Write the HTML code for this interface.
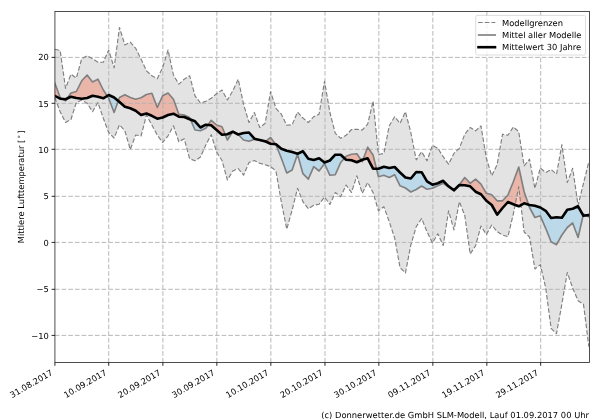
<!DOCTYPE html>
<html lang="de"><head><meta charset="utf-8"><title>Mittlere Lufttemperatur</title>
<style>html,body{margin:0;padding:0;background:#fff}body{width:600px;height:420px;overflow:hidden}svg{display:block}text{font-family:"DejaVu Sans","Liberation Sans",sans-serif;font-size:8.33px;fill:#000;text-rendering:geometricPrecision}</style></head><body>
<svg width="600" height="420" viewBox="0 0 600 420" role="img" aria-label="Mittlere Lufttemperatur">
<rect width="600" height="420" fill="#fff"/>
<polygon fill="rgba(128,128,128,0.22)" points="54.76,49.2 60.16,50.5 65.55,88.3 70.94,74.2 76.34,78 81.73,58.7 87.13,55.8 92.53,58.7 97.92,62.2 103.31,62.2 108.71,50 114.1,67.8 119.5,27.5 124.89,45 130.29,42.2 135.69,48.3 141.08,59.2 146.47,70.8 151.87,75.8 157.26,78.7 162.66,67.5 168.05,50 173.45,75 178.84,84.2 184.24,79.2 189.63,75.8 195.03,95.8 200.42,103 205.82,101.3 211.21,98.3 216.61,93.7 222,90 227.4,100 232.79,90.8 238.19,79.2 243.58,104.2 248.98,122.5 254.37,112.5 259.77,127.5 265.16,123.3 270.56,91.7 275.95,108.3 281.35,114.2 286.75,125.3 292.14,124.7 297.53,112 302.93,118 308.32,122.5 313.72,116.7 319.11,114.2 324.51,81.3 329.9,112.5 335.3,133.3 340.69,138.3 346.09,135.3 351.48,129.5 356.88,129.2 362.27,130 367.67,124.2 373.06,101.2 378.46,154.5 383.85,153.5 389.25,125.8 394.64,116.7 400.04,123.3 405.43,111.7 410.83,132.5 416.22,160 421.62,151.7 427.01,160.8 432.41,145.3 437.8,148.3 443.2,156.7 448.59,164.2 453.99,153.3 459.38,148.3 464.78,134.2 470.17,127.5 475.57,130.8 480.96,125.8 486.36,158.3 491.75,175.8 497.15,164.5 502.54,134.2 507.94,135.3 513.34,127 518.73,131.7 524.12,165.8 529.52,159.2 534.91,188.3 540.31,168 545.7,172.5 551.1,169.5 556.5,174.2 561.89,144.7 567.28,182.5 572.68,168.3 578.07,205.5 583.47,183.3 588.86,161.7 588.86,346.7 583.47,304.2 578.07,300.8 572.68,288 567.28,272.5 561.89,304 556.5,333.7 551.1,328.3 545.7,287.8 540.31,264.7 534.91,269 529.52,237 524.12,232 518.73,186.7 513.34,214 507.94,236.7 502.54,235 497.15,231.7 491.75,225 486.36,234.5 480.96,226 475.57,245.8 470.17,254 464.78,215.5 459.38,201.7 453.99,230 448.59,210.8 443.2,245.5 437.8,233.7 432.41,243 427.01,231.7 421.62,218.5 416.22,226.7 410.83,245 405.43,273 400.04,267.5 394.64,238 389.25,221.7 383.85,206.7 378.46,210.8 373.06,192.5 367.67,182.5 362.27,193.3 356.88,175.8 351.48,192.5 346.09,185 340.69,196.7 335.3,192.5 329.9,204.5 324.51,197 319.11,204.2 313.72,205.3 308.32,208.7 302.93,201.7 297.53,188.3 292.14,210 286.75,229.2 281.35,202 275.95,171 270.56,166.5 265.16,164.8 259.77,163.3 254.37,160.5 248.98,162.5 243.58,175.2 238.19,168.5 232.79,171 227.4,180 222,160.5 216.61,152 211.21,134.7 205.82,145 200.42,157 195.03,160.8 189.63,158.7 184.24,138.7 178.84,141.7 173.45,125.8 168.05,135.8 162.66,142.5 157.26,135 151.87,125 146.47,115 141.08,136 135.69,135 130.29,149.5 124.89,130.8 119.5,124.7 114.1,138 108.71,132.5 103.31,118.3 97.92,102.5 92.53,111.7 87.13,103.3 81.73,100 76.34,102.5 70.94,119.5 65.55,122.5 60.16,111.7 54.76,97.5"/>
<polygon fill="rgba(255,80,40,0.3)" points="54.76,83 60.16,97.5 62.47,98.91 62.47,98.91 60.16,98.7 54.76,95.8"/>
<polygon fill="rgba(255,80,40,0.3)" points="67.18,98.45 70.94,93 76.34,91.5 81.73,80.8 87.13,75 92.53,82 97.92,79.2 103.31,90 107.18,95.94 107.18,95.94 103.31,98.3 97.92,96.7 92.53,95.8 87.13,98 81.73,98.7 76.34,98 70.94,96.7 67.18,98.45"/>
<polygon fill="rgba(255,80,40,0.3)" points="118.25,100.96 119.5,97.5 124.89,94.7 130.29,97.5 135.69,99.2 141.08,97.8 146.47,94.5 151.87,93.3 157.26,107.5 162.66,95.8 168.05,93 173.45,99.2 178.84,114.2 184.24,115 189.63,117.5 190.52,119.54 190.52,119.54 189.63,119.2 184.24,117 178.84,116.7 173.45,113.7 168.05,115 162.66,117.5 157.26,118.7 151.87,115.8 146.47,113.5 141.08,115 135.69,110.8 130.29,108.3 124.89,106.7 119.5,102 118.25,100.96"/>
<polygon fill="rgba(255,80,40,0.3)" points="208.08,124.95 211.21,120.3 216.61,125 222,126.7 225.13,134.41 225.13,134.41 222,134.7 216.61,130 211.21,125.3 208.08,124.95"/>
<polygon fill="rgba(255,80,40,0.3)" points="232.62,131.78 232.79,131.5 238.19,134.5 238.19,134.5 232.79,131.7 232.62,131.78"/>
<polygon fill="rgba(255,80,40,0.3)" points="265.71,141.54 270.56,137.5 275.55,144.16 275.55,144.16 270.56,143.7 265.71,141.54"/>
<polygon fill="rgba(255,80,40,0.3)" points="344.45,158.18 346.09,156.3 351.48,154.2 356.88,153.7 361.25,160.18 361.25,160.18 356.88,162.2 351.48,160.3 346.09,159.7 344.45,158.18"/>
<polygon fill="rgba(255,80,40,0.3)" points="363.1,159.49 367.67,147.2 373.06,155 376.47,168.7 376.47,168.7 373.06,168.7 367.67,158.3 363.1,159.49"/>
<polygon fill="rgba(255,80,40,0.3)" points="457.36,186.99 459.38,184.7 464.78,177.5 470.17,183.3 475.57,179.2 480.96,184.2 486.36,193.3 491.75,194.7 497.15,200.8 502.54,200.8 507.94,195 513.34,181.7 518.73,167 524.12,191.7 528.56,204.7 528.56,204.7 524.12,203.3 518.73,206.3 513.34,204.2 507.94,202 502.54,208 497.15,214.7 491.75,205 486.36,200.8 480.96,194.2 475.57,191.7 470.17,186.3 464.78,185.3 459.38,185 457.36,186.99"/>
<polygon fill="rgba(255,80,40,0.3)" points="583.18,215.28 583.47,214 586.03,215.42 586.03,215.42 583.47,215.8 583.18,215.28"/>
<polygon fill="rgba(100,197,247,0.3)" points="62.47,98.91 65.55,100.8 67.18,98.45 67.18,98.45 65.55,99.2 62.47,98.91"/>
<polygon fill="rgba(100,197,247,0.3)" points="107.18,95.94 108.71,98.3 114.1,112.5 118.25,100.96 118.25,100.96 114.1,97.5 108.71,95 107.18,95.94"/>
<polygon fill="rgba(100,197,247,0.3)" points="190.52,119.54 195.03,130 200.42,130.8 205.82,128.3 208.08,124.95 208.08,124.95 205.82,124.7 200.42,127.5 195.03,121.3 190.52,119.54"/>
<polygon fill="rgba(100,197,247,0.3)" points="225.13,134.41 227.4,140 232.62,131.78 232.62,131.78 227.4,134.2 225.13,134.41"/>
<polygon fill="rgba(100,197,247,0.3)" points="238.19,134.5 243.58,140 248.98,141.3 254.37,139.2 259.77,140.3 265.16,142 265.71,141.54 265.71,141.54 265.16,141.3 259.77,140 254.37,138.7 248.98,132.5 243.58,133 238.19,134.5"/>
<polygon fill="rgba(100,197,247,0.3)" points="275.55,144.16 275.95,144.7 281.35,158.3 286.75,173 292.14,170 297.53,154.2 302.93,173.7 308.32,179.2 313.72,166.7 319.11,171 324.51,163.5 329.9,175.3 335.3,174.7 340.69,162.5 344.45,158.18 344.45,158.18 340.69,154.7 335.3,154.7 329.9,160.5 324.51,162.5 319.11,158.3 313.72,160 308.32,158.7 302.93,151.3 297.53,153.7 292.14,152 286.75,150.8 281.35,148.7 275.95,144.2 275.55,144.16"/>
<polygon fill="rgba(100,197,247,0.3)" points="361.25,160.18 362.27,161.7 363.1,159.49 363.1,159.49 362.27,159.7 361.25,160.18"/>
<polygon fill="rgba(100,197,247,0.3)" points="376.47,168.7 378.46,176.7 383.85,175.3 389.25,177.5 394.64,174.7 400.04,185.8 405.43,188 410.83,192 416.22,189.5 421.62,186 427.01,189.2 432.41,188.3 437.8,185.8 443.2,183.3 448.59,187 453.99,190.8 457.36,186.99 457.36,186.99 453.99,190.3 448.59,186.3 443.2,180.8 437.8,183.3 432.41,184.7 427.01,181.3 421.62,172.2 416.22,172 410.83,178.5 405.43,177.5 400.04,172.5 394.64,167 389.25,168 383.85,166.7 378.46,168.7 376.47,168.7"/>
<polygon fill="rgba(100,197,247,0.3)" points="528.56,204.7 529.52,207.5 534.91,217.5 540.31,215.8 545.7,228.3 551.1,241.7 556.5,244.7 561.89,235 567.28,227.5 572.68,223 578.07,237.5 583.18,215.28 583.18,215.28 578.07,206.3 572.68,208.8 567.28,209.7 561.89,217.8 556.5,217.2 551.1,218 545.7,210.8 540.31,207.5 534.91,205.8 529.52,205 528.56,204.7"/>
<polygon fill="rgba(100,197,247,0.3)" points="586.03,215.42 588.86,217 588.86,215 586.03,215.42"/>
<g stroke="#b0b0b0" stroke-width="0.9" stroke-dasharray="4.62 2.05" stroke-opacity="1" fill="none">
<line x1="108.72" y1="362.5" x2="108.72" y2="11.5"/>
<line x1="162.88" y1="362.5" x2="162.88" y2="11.5"/>
<line x1="216.85" y1="362.5" x2="216.85" y2="11.5"/>
<line x1="270.85" y1="362.5" x2="270.85" y2="11.5"/>
<line x1="324.98" y1="362.5" x2="324.98" y2="11.5"/>
<line x1="378.85" y1="362.5" x2="378.85" y2="11.5"/>
<line x1="432.85" y1="362.5" x2="432.85" y2="11.5"/>
<line x1="486.85" y1="362.5" x2="486.85" y2="11.5"/>
<line x1="540.68" y1="362.5" x2="540.68" y2="11.5"/>
<line x1="54.92" y1="335.4" x2="589.5" y2="335.4"/>
<line x1="54.92" y1="289.3" x2="589.5" y2="289.3"/>
<line x1="54.92" y1="242.4" x2="589.5" y2="242.4"/>
<line x1="54.92" y1="196.3" x2="589.5" y2="196.3"/>
<line x1="54.92" y1="149.3" x2="589.5" y2="149.3"/>
<line x1="54.92" y1="103.3" x2="589.5" y2="103.3"/>
<line x1="54.92" y1="57.4" x2="589.5" y2="57.4"/>
</g>
<g fill="none" stroke-linejoin="round">
<polyline stroke="#808080" stroke-width="1.15" stroke-dasharray="4.6 2.05" points="54.76,49.2 60.16,50.5 65.55,88.3 70.94,74.2 76.34,78 81.73,58.7 87.13,55.8 92.53,58.7 97.92,62.2 103.31,62.2 108.71,50 114.1,67.8 119.5,27.5 124.89,45 130.29,42.2 135.69,48.3 141.08,59.2 146.47,70.8 151.87,75.8 157.26,78.7 162.66,67.5 168.05,50 173.45,75 178.84,84.2 184.24,79.2 189.63,75.8 195.03,95.8 200.42,103 205.82,101.3 211.21,98.3 216.61,93.7 222,90 227.4,100 232.79,90.8 238.19,79.2 243.58,104.2 248.98,122.5 254.37,112.5 259.77,127.5 265.16,123.3 270.56,91.7 275.95,108.3 281.35,114.2 286.75,125.3 292.14,124.7 297.53,112 302.93,118 308.32,122.5 313.72,116.7 319.11,114.2 324.51,81.3 329.9,112.5 335.3,133.3 340.69,138.3 346.09,135.3 351.48,129.5 356.88,129.2 362.27,130 367.67,124.2 373.06,101.2 378.46,154.5 383.85,153.5 389.25,125.8 394.64,116.7 400.04,123.3 405.43,111.7 410.83,132.5 416.22,160 421.62,151.7 427.01,160.8 432.41,145.3 437.8,148.3 443.2,156.7 448.59,164.2 453.99,153.3 459.38,148.3 464.78,134.2 470.17,127.5 475.57,130.8 480.96,125.8 486.36,158.3 491.75,175.8 497.15,164.5 502.54,134.2 507.94,135.3 513.34,127 518.73,131.7 524.12,165.8 529.52,159.2 534.91,188.3 540.31,168 545.7,172.5 551.1,169.5 556.5,174.2 561.89,144.7 567.28,182.5 572.68,168.3 578.07,205.5 583.47,183.3 588.86,161.7"/>
<polyline stroke="#808080" stroke-width="1.15" stroke-dasharray="4.6 2.05" points="54.76,97.5 60.16,111.7 65.55,122.5 70.94,119.5 76.34,102.5 81.73,100 87.13,103.3 92.53,111.7 97.92,102.5 103.31,118.3 108.71,132.5 114.1,138 119.5,124.7 124.89,130.8 130.29,149.5 135.69,135 141.08,136 146.47,115 151.87,125 157.26,135 162.66,142.5 168.05,135.8 173.45,125.8 178.84,141.7 184.24,138.7 189.63,158.7 195.03,160.8 200.42,157 205.82,145 211.21,134.7 216.61,152 222,160.5 227.4,180 232.79,171 238.19,168.5 243.58,175.2 248.98,162.5 254.37,160.5 259.77,163.3 265.16,164.8 270.56,166.5 275.95,171 281.35,202 286.75,229.2 292.14,210 297.53,188.3 302.93,201.7 308.32,208.7 313.72,205.3 319.11,204.2 324.51,197 329.9,204.5 335.3,192.5 340.69,196.7 346.09,185 351.48,192.5 356.88,175.8 362.27,193.3 367.67,182.5 373.06,192.5 378.46,210.8 383.85,206.7 389.25,221.7 394.64,238 400.04,267.5 405.43,273 410.83,245 416.22,226.7 421.62,218.5 427.01,231.7 432.41,243 437.8,233.7 443.2,245.5 448.59,210.8 453.99,230 459.38,201.7 464.78,215.5 470.17,254 475.57,245.8 480.96,226 486.36,234.5 491.75,225 497.15,231.7 502.54,235 507.94,236.7 513.34,214 518.73,186.7 524.12,232 529.52,237 534.91,269 540.31,264.7 545.7,287.8 551.1,328.3 556.5,333.7 561.89,304 567.28,272.5 572.68,288 578.07,300.8 583.47,304.2 588.86,346.7"/>
</g>
<clipPath id="axclip"><rect x="54.92" y="11.5" width="534.58" height="351"/></clipPath>
<g fill="none" stroke-linejoin="round" stroke-linecap="square" clip-path="url(#axclip)">
<polyline stroke="#808080" stroke-width="1.65" points="54.76,83 60.16,97.5 65.55,100.8 70.94,93 76.34,91.5 81.73,80.8 87.13,75 92.53,82 97.92,79.2 103.31,90 108.71,98.3 114.1,112.5 119.5,97.5 124.89,94.7 130.29,97.5 135.69,99.2 141.08,97.8 146.47,94.5 151.87,93.3 157.26,107.5 162.66,95.8 168.05,93 173.45,99.2 178.84,114.2 184.24,115 189.63,117.5 195.03,130 200.42,130.8 205.82,128.3 211.21,120.3 216.61,125 222,126.7 227.4,140 232.79,131.5 238.19,134.5 243.58,140 248.98,141.3 254.37,139.2 259.77,140.3 265.16,142 270.56,137.5 275.95,144.7 281.35,158.3 286.75,173 292.14,170 297.53,154.2 302.93,173.7 308.32,179.2 313.72,166.7 319.11,171 324.51,163.5 329.9,175.3 335.3,174.7 340.69,162.5 346.09,156.3 351.48,154.2 356.88,153.7 362.27,161.7 367.67,147.2 373.06,155 378.46,176.7 383.85,175.3 389.25,177.5 394.64,174.7 400.04,185.8 405.43,188 410.83,192 416.22,189.5 421.62,186 427.01,189.2 432.41,188.3 437.8,185.8 443.2,183.3 448.59,187 453.99,190.8 459.38,184.7 464.78,177.5 470.17,183.3 475.57,179.2 480.96,184.2 486.36,193.3 491.75,194.7 497.15,200.8 502.54,200.8 507.94,195 513.34,181.7 518.73,167 524.12,191.7 529.52,207.5 534.91,217.5 540.31,215.8 545.7,228.3 551.1,241.7 556.5,244.7 561.89,235 567.28,227.5 572.68,223 578.07,237.5 583.47,214 588.86,217"/>
<polyline stroke="#000" stroke-width="2.6" points="54.76,95.8 60.16,98.7 65.55,99.2 70.94,96.7 76.34,98 81.73,98.7 87.13,98 92.53,95.8 97.92,96.7 103.31,98.3 108.71,95 114.1,97.5 119.5,102 124.89,106.7 130.29,108.3 135.69,110.8 141.08,115 146.47,113.5 151.87,115.8 157.26,118.7 162.66,117.5 168.05,115 173.45,113.7 178.84,116.7 184.24,117 189.63,119.2 195.03,121.3 200.42,127.5 205.82,124.7 211.21,125.3 216.61,130 222,134.7 227.4,134.2 232.79,131.7 238.19,134.5 243.58,133 248.98,132.5 254.37,138.7 259.77,140 265.16,141.3 270.56,143.7 275.95,144.2 281.35,148.7 286.75,150.8 292.14,152 297.53,153.7 302.93,151.3 308.32,158.7 313.72,160 319.11,158.3 324.51,162.5 329.9,160.5 335.3,154.7 340.69,154.7 346.09,159.7 351.48,160.3 356.88,162.2 362.27,159.7 367.67,158.3 373.06,168.7 378.46,168.7 383.85,166.7 389.25,168 394.64,167 400.04,172.5 405.43,177.5 410.83,178.5 416.22,172 421.62,172.2 427.01,181.3 432.41,184.7 437.8,183.3 443.2,180.8 448.59,186.3 453.99,190.3 459.38,185 464.78,185.3 470.17,186.3 475.57,191.7 480.96,194.2 486.36,200.8 491.75,205 497.15,214.7 502.54,208 507.94,202 513.34,204.2 518.73,206.3 524.12,203.3 529.52,205 534.91,205.8 540.31,207.5 545.7,210.8 551.1,218 556.5,217.2 561.89,217.8 567.28,209.7 572.68,208.8 578.07,206.3 583.47,215.8 588.86,215"/>
</g>
<rect x="54.92" y="11.5" width="534.58" height="351" fill="none" stroke="#2a2a2a" stroke-width="0.83" stroke-opacity="1"/>
<g stroke="#000" stroke-width="0.85">
<line x1="54.9" y1="362.5" x2="54.9" y2="365.8"/>
<line x1="108.72" y1="362.5" x2="108.72" y2="365.8"/>
<line x1="162.88" y1="362.5" x2="162.88" y2="365.8"/>
<line x1="216.85" y1="362.5" x2="216.85" y2="365.8"/>
<line x1="270.85" y1="362.5" x2="270.85" y2="365.8"/>
<line x1="324.98" y1="362.5" x2="324.98" y2="365.8"/>
<line x1="378.85" y1="362.5" x2="378.85" y2="365.8"/>
<line x1="432.85" y1="362.5" x2="432.85" y2="365.8"/>
<line x1="486.85" y1="362.5" x2="486.85" y2="365.8"/>
<line x1="540.68" y1="362.5" x2="540.68" y2="365.8"/>
<line x1="54.92" y1="335.4" x2="51.62" y2="335.4"/>
<line x1="54.92" y1="289.3" x2="51.62" y2="289.3"/>
<line x1="54.92" y1="242.4" x2="51.62" y2="242.4"/>
<line x1="54.92" y1="196.3" x2="51.62" y2="196.3"/>
<line x1="54.92" y1="149.3" x2="51.62" y2="149.3"/>
<line x1="54.92" y1="103.3" x2="51.62" y2="103.3"/>
<line x1="54.92" y1="57.4" x2="51.62" y2="57.4"/>
</g>
<g text-anchor="end">
<text x="48.9" y="339">−10</text>
<text x="48.9" y="291.9">−5</text>
<text x="48.9" y="246">0</text>
<text x="48.9" y="199.1">5</text>
<text x="48.9" y="152.8">10</text>
<text x="48.9" y="106.7">15</text>
<text x="48.9" y="60">20</text>
</g>
<g text-anchor="end">
<text transform="translate(53.4,374.3) rotate(-30)">31.08.2017</text>
<text transform="translate(107.22,374.3) rotate(-30)">10.09.2017</text>
<text transform="translate(161.38,374.3) rotate(-30)">20.09.2017</text>
<text transform="translate(215.35,374.3) rotate(-30)">30.09.2017</text>
<text transform="translate(269.35,374.3) rotate(-30)">10.10.2017</text>
<text transform="translate(323.48,374.3) rotate(-30)">20.10.2017</text>
<text transform="translate(377.35,374.3) rotate(-30)">30.10.2017</text>
<text transform="translate(431.35,374.3) rotate(-30)">09.11.2017</text>
<text transform="translate(485.35,374.3) rotate(-30)">19.11.2017</text>
<text transform="translate(539.18,374.3) rotate(-30)">29.11.2017</text>
</g>
<text transform="translate(24,243.3) rotate(-90)">Mittlere Lufttemperatur [<tspan font-size="7" dx="1.25" dy="-1.5">°</tspan><tspan dx="1.2" dy="1.5">]</tspan></text>
<text x="321.2" y="417.6" letter-spacing="0.018">(c) Donnerwetter.de GmbH SLM-Modell, Lauf 01.09.2017 00 Uhr</text>
<rect x="475.7" y="15.4" width="109.8" height="39.6" rx="1.7" ry="1.7" fill="#fff" fill-opacity="0.8" stroke="#ccc" stroke-opacity="0.8" stroke-width="0.83"/>
<line x1="478.1" y1="22.45" x2="495.3" y2="22.45" stroke="#808080" stroke-width="1.15" stroke-dasharray="4.6 2.05"/>
<line x1="477.8" y1="35" x2="496" y2="35" stroke="#808080" stroke-width="1.65"/>
<line x1="477.2" y1="47.2" x2="496.3" y2="47.2" stroke="#000" stroke-width="2.6"/>
<text x="502" y="25.6">Modellgrenzen</text>
<text x="502" y="37.9">Mittel aller Modelle</text>
<text x="502" y="50.3">Mittelwert 30 Jahre</text>
</svg></body></html>
